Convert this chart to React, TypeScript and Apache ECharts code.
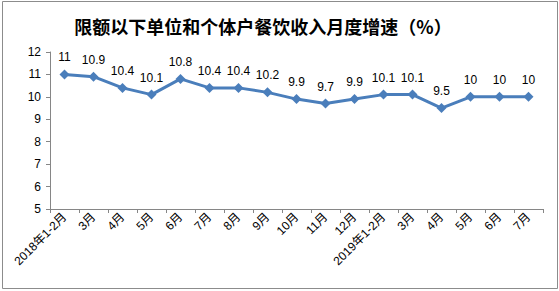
import React, { useEffect, useRef } from "react";
import * as echarts from "echarts";

const titleText = "限额以下单位和个体户餐饮收入月度增速（%）";
const categories = [
  "2018年1-2月", "3月", "4月", "5月", "6月", "7月", "8月", "9月", "10月", "11月", "12月",
  "2019年1-2月", "3月", "4月", "5月", "6月", "7月",
];
const growth = [11, 10.9, 10.4, 10.1, 10.8, 10.4, 10.4, 10.2, 9.9, 9.7, 9.9, 10.1, 10.1, 9.5, 10, 10, 10];
const yMin = 5;
const yMax = 12;

export default function App() {
  const ref = useRef<HTMLDivElement>(null);
  useEffect(() => {
    document.body.style.margin = "0";
    const chart = echarts.init(ref.current!, null, { renderer: "svg" });
    const font = "'Liberation Sans', 'Noto Sans CJK SC', sans-serif";
    chart.setOption({
      animation: false,
      backgroundColor: "#fff",
      graphic: [
        {
          type: "rect",
          shape: { x: 2.5, y: 1.5, width: 555, height: 287 },
          style: { fill: "none", stroke: "#8c8c8c", lineWidth: 1 },
          silent: true,
        },
      ],
      title: {
        text: titleText,
        left: 258,
        textAlign: "center",
        top: 12,
        textStyle: {
          fontFamily: "'Noto Sans CJK SC', sans-serif",
          fontSize: 18,
          fontWeight: "bold",
          color: "#000",
        },
      },
      grid: { left: 50, top: 52, width: 493, height: 157, containLabel: false },
      xAxis: {
        type: "category",
        data: categories,
        boundaryGap: true,
        axisLine: { lineStyle: { color: "#868686", width: 1 } },
        axisTick: { show: true, alignWithLabel: false, length: 4, lineStyle: { color: "#868686" } },
        axisLabel: {
          rotate: 45,
          interval: 0,
          margin: 6,
          fontSize: 12,
          color: "#000",
          fontFamily: font,
        },
        splitLine: { show: false },
      },
      yAxis: {
        type: "value",
        min: yMin,
        max: yMax,
        interval: 1,
        axisLine: { show: true, lineStyle: { color: "#868686", width: 1 } },
        axisTick: { show: true, length: 4, lineStyle: { color: "#868686" } },
        axisLabel: { fontSize: 12, color: "#000", fontFamily: font, margin: 9 },
        splitLine: { show: false },
      },
      series: [
        {
          type: "line",
          data: growth,
          symbol: "diamond",
          symbolSize: 10,
          lineStyle: { color: "#4A7EBB", width: 3 },
          itemStyle: { color: "#4A7EBB" },
          label: {
            show: true,
            position: "top",
            distance: 6,
            fontSize: 12,
            color: "#000",
            fontFamily: font,
          },
        },
      ],
    });
    return () => chart.dispose();
  }, []);
  return <div ref={ref} style={{ width: 559, height: 291 }} />;
}
